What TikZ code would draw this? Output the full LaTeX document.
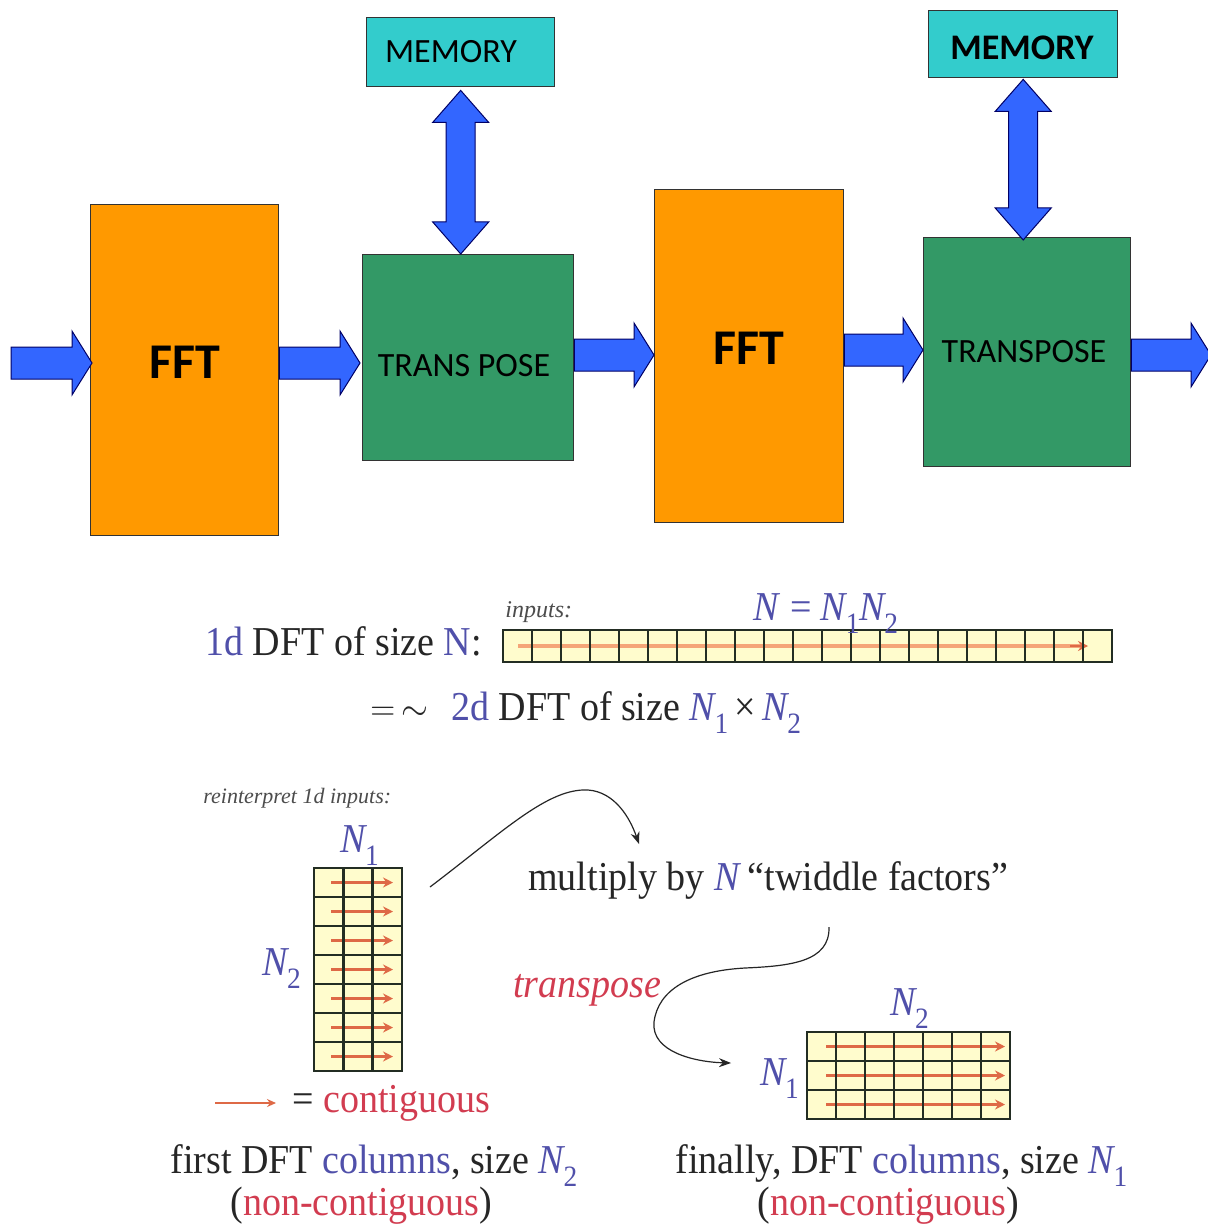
\documentclass[tikz,border=0pt]{standalone}
\usepackage{fontspec}
\usepackage{graphicx}
\setmainfont{Liberation Serif}
\newfontfamily\calibri{Carlito}
\usetikzlibrary{arrows.meta,calc}

\definecolor{fftorange}{RGB}{255,153,0}
\definecolor{trgreen}{RGB}{51,153,102}
\definecolor{memcyan}{RGB}{51,204,204}
\definecolor{flowblue}{RGB}{51,102,255}
\definecolor{tblue}{RGB}{80,80,170}
\definecolor{tred}{RGB}{210,60,80}
\definecolor{cellfill}{RGB}{255,252,205}
\definecolor{gridline}{RGB}{35,45,35}
\definecolor{runred}{RGB}{222,105,70}
\definecolor{runlight}{RGB}{245,165,120}

% italic N with a lowered subscript
\newcommand\Nsb[1]{\textit{N}\kern-0.06em\raisebox{-0.32em}{\scalebox{0.72}{#1}}}

% horizontal block arrow between two points of equal height
\newcommand\hfat[2]{%
  \draw[blockarrow] let \p1=#1, \p2=#2 in
    (\x1,\y1+8pt) -- (\x2-10pt,\y1+8pt) -- (\x2-10pt,\y1+16pt) -- (\x2,\y1)
    -- (\x2-10pt,\y1-16pt) -- (\x2-10pt,\y1-8pt) -- (\x1,\y1-8pt) -- cycle;}

% vertical double-headed block arrow, #1 top point, #2 bottom point
\newcommand\vfat[2]{%
  \draw[blockarrow] let \p1=#1, \p2=#2 in
    (\x1,\y1) -- (\x1+14pt,\y1-16pt) -- (\x1+7.25pt,\y1-16pt) -- (\x1+7.25pt,\y2+16pt)
    -- (\x1+14pt,\y2+16pt) -- (\x1,\y2) -- (\x1-14pt,\y2+16pt) -- (\x1-7.25pt,\y2+16pt)
    -- (\x1-7.25pt,\y1-16pt) -- (\x1-14pt,\y1-16pt) -- cycle;}

\tikzset{
  box/.style={draw=black!80, line width=0.7pt, anchor=north west, inner sep=0pt},
  blockarrow/.style={fill=flowblue, draw=blue!40!black, line width=0.5pt, line join=miter},
  lbl/.style={inner sep=0pt, text=black},
  txt/.style={anchor=base west, inner sep=0pt, text=black!85, yscale=1.08,
              font=\fontsize{19}{22}\selectfont},
  small/.style={anchor=base west, inner sep=0pt, text=black!70,
              font=\fontsize{11}{13}\selectfont\itshape},
  run/.style={runred, line width=1.3pt, -{Stealth[length=5pt,width=5pt]}},
  gline/.style={gridline, line width=1.4pt},
  curve/.style={black!85, line width=0.6pt, -{Stealth[length=6pt,width=4.5pt]}}
}

\begin{document}
\begin{tikzpicture}[x=0.5pt,y=-0.5pt]
\clip (0,0) rectangle (1208,1225);
\fill[white] (0,0) rectangle (1208,1225);

% ---------------- processing chain ----------------
\node[box, fill=fftorange, minimum width=94pt,  minimum height=165.5pt] (fft1) at (90,204) {};
\node[box, fill=trgreen,   minimum width=105.5pt, minimum height=103pt] (tr1)  at (362,254) {};
\node[box, fill=memcyan,   minimum width=94pt,  minimum height=34.5pt]  (mem1) at (366,17) {};
\node[box, fill=fftorange, minimum width=94.5pt, minimum height=166.5pt] (fft2) at (654,189) {};
\node[box, fill=trgreen,   minimum width=103.5pt, minimum height=114.5pt] (tr2)  at (923,237) {};
\node[box, fill=memcyan,   minimum width=94.5pt, minimum height=33.5pt]  (mem2) at (928,10) {};

\node[lbl, font=\calibri\bfseries\fontsize{25}{25}\selectfont] (fft1t) at (185,362) {FFT};
\node[lbl, font=\calibri\bfseries\fontsize{25}{25}\selectfont] (fft2t) at (749,348) {FFT};
\node[lbl, font=\calibri\fontsize{17}{17}\selectfont] (tr1t) at (464,366) {TRANS POSE};
\node[lbl, font=\calibri\fontsize{17}{17}\selectfont] (tr2t) at (1024,352) {TRANSPOSE};
\node[lbl, font=\calibri\fontsize{17}{17}\selectfont] (mem1t) at (451,52) {MEMORY};
\node[lbl, font=\calibri\bfseries\fontsize{18}{18}\selectfont] (mem2t) at (1022,48) {MEMORY};

% heights of the flow arrows
\coordinate (rowA) at (0,363);
\coordinate (rowB) at (0,355);
\coordinate (rowC) at (0,350);
\coordinate (in)  at (11,363);
\coordinate (out) at (1211,355);

\hfat{(in)}{([xshift=1pt]fft1.west |- rowA)}
\hfat{(fft1.east |- rowA)}{([xshift=-1pt]tr1.west |- rowA)}
\hfat{(tr1.east |- rowB)}{(fft2.west |- rowB)}
\hfat{(fft2.east |- rowC)}{(tr2.west |- rowC)}
\hfat{(tr2.east |- rowB)}{(out)}

\vfat{([yshift=-1.5pt]mem1.south)}{(mem1.south |- tr1.north)}
\vfat{([yshift=-0.5pt]mem2.south)}{([yshift=-1.5pt]mem2.south |- tr2.north)}

% ---------------- 1d array of inputs ----------------
\fill[cellfill] (503,630) rectangle (1112,662);
\draw[runlight, line width=1.6pt] (518,646) -- (1080,646);
\draw[runred, line width=0.8pt, -{Stealth[length=5pt,width=5pt]}] (1070,646) -- (1088,646);
\foreach \k in {1,...,20} \draw[gridline, line width=1.1pt] (503+29*\k,630) -- (503+29*\k,662);
\draw[gridline, line width=0.8pt] (503,630) rectangle (1112,662);

\node[small, font=\fontsize{12}{14}\selectfont\itshape] (inputs) at (505,617) {inputs:};
\node[txt, text=tblue] (nn) at (753,620) {\textit{N} = \Nsb{1}\Nsb{2}};
\node[txt] (oned) at (205,655) {{\color{tblue}1d} DFT of size {\color{tblue}N}:};
\node[txt] (twod) at (370,720) {$=$\,$\sim$\hspace{0.6em}{\color{tblue}2d} DFT of size {\color{tblue}\Nsb{1}}\,×\,{\color{tblue}\Nsb{2}}};

% ---------------- N2 x N1 column layout ----------------
\node[small] (reint) at (203,803) {reinterpret 1d inputs:};
\fill[cellfill] (314,868) rectangle (402,1071);
\foreach \r in {0,...,6} \draw[run] (331,882.5+29*\r) -- (393,882.5+29*\r);
\foreach \c in {1,2} \draw[gline] (314+29.33*\c,868) -- (314+29.33*\c,1071);
\foreach \r in {1,...,6} \draw[gline] (314,868+29*\r) -- (402,868+29*\r);
\draw[gline, line width=1pt] (314,868) rectangle (402,1071);
\node[txt, text=tblue] (lN1) at (340,852) {\Nsb{1}};
\node[txt, text=tblue] (lN2) at (262,975) {\Nsb{2}};

% legend
\coordinate (legA) at (215,1103);
\coordinate (legB) at (276,1103);
\draw[runred, line width=0.8pt, -{Stealth[length=4.5pt,width=4pt]}] (legA) -- (legB);
\node[txt] (contig) at (292,1112) {= {\color{tred}contiguous}};

\node[txt] (first) at (170,1173) {first DFT {\color{tblue}columns}, size {\color{tblue}\Nsb{2}}};
\node[txt] (nc1) at (230,1215) {({\color{tred}non-contiguous})};

% ---------------- twiddle factors and transpose ----------------
\node[txt] (twid) at (528,890) {multiply by {\color{tblue}\textit{N}}\,“twiddle factors”};
\node[txt, text=tred, font=\fontsize{19}{22}\selectfont\itshape] (tpose) at (513,997) {transpose};

\coordinate (c1s) at (430,887);
\coordinate (c1e) at (639,844);
\draw[curve] (c1s) .. controls (505,830) and (548,788) .. (588,790)
                   .. controls (615,792) and (630,818) .. (c1e);
\coordinate (c2s) at (829,927);
\coordinate (c2e) at (731,1063);
\draw[curve] (c2s) .. controls (830,962) and (790,966) .. (745,968)
                   .. controls (690,971) and (658,990) .. (654,1022)
                   .. controls (651,1052) and (695,1062) .. (c2e);

% ---------------- N1 x N2 row layout ----------------
\fill[cellfill] (807,1032) rectangle (1010,1119);
\foreach \r in {0,...,2} \draw[run] (826,1046.5+29*\r) -- (1005,1046.5+29*\r);
\foreach \c in {1,...,6} \draw[gline] (807+29*\c,1032) -- (807+29*\c,1119);
\foreach \r in {1,2} \draw[gline] (807,1032+29*\r) -- (1010,1032+29*\r);
\draw[gline, line width=1pt] (807,1032) rectangle (1010,1119);
\node[txt, text=tblue] (rN2) at (890,1015) {\Nsb{2}};
\node[txt, text=tblue] (rN1) at (760,1085) {\Nsb{1}};

\node[txt] (final) at (675,1173) {finally, DFT {\color{tblue}columns}, size {\color{tblue}\Nsb{1}}};
\node[txt] (nc2) at (757,1215) {({\color{tred}non-contiguous})};
\end{tikzpicture}
\end{document}
